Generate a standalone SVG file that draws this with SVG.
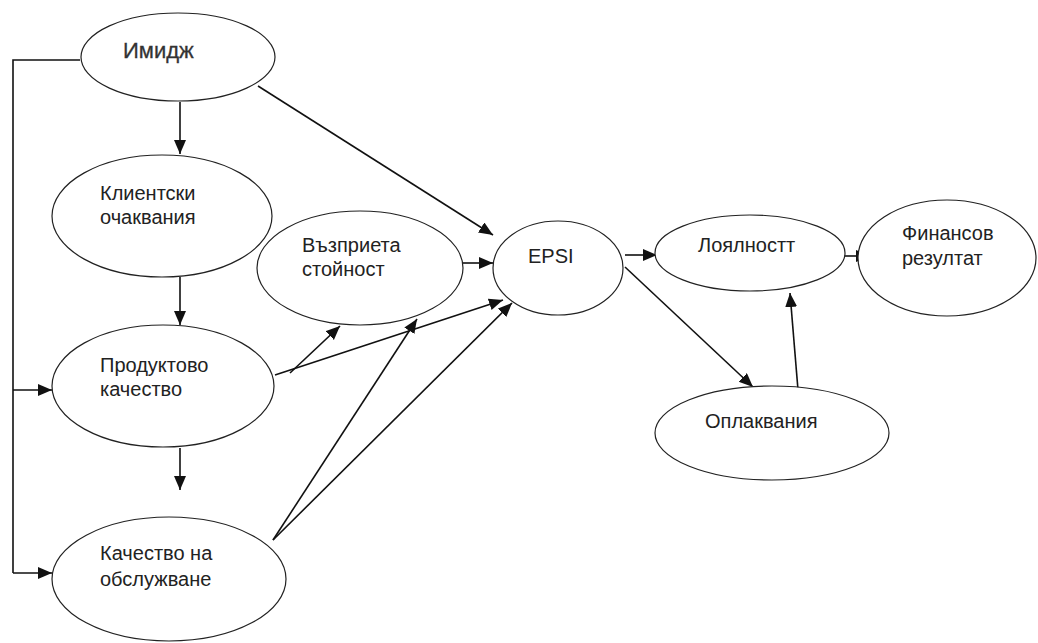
<svg xmlns="http://www.w3.org/2000/svg" width="1038" height="643" viewBox="0 0 1038 643">
<style>
.n{fill:#fff;stroke:#222;stroke-width:1.2}
.t{font-family:"Liberation Sans",Arial,sans-serif;font-size:20px;fill:#222}
.c{fill:none;stroke:#111;stroke-width:1.6}
</style>
<defs>
<marker id="a" markerUnits="userSpaceOnUse" markerWidth="16" markerHeight="14" refX="14" refY="6" orient="auto">
<path d="M0,0 L14,6 L0,12 Z" fill="#111"/>
</marker>
</defs>
<rect width="1038" height="643" fill="#fff"/>
<g id="connectors">
<polyline class="c" points="80,60 13,60 13,573"/>
<line class="c" x1="13" y1="390" x2="52" y2="390" marker-end="url(#a)"/>
<line class="c" x1="13" y1="573" x2="52" y2="573" marker-end="url(#a)"/>
<line class="c" x1="180" y1="102" x2="180" y2="154" marker-end="url(#a)"/>
<line class="c" x1="180" y1="277" x2="180" y2="325" marker-end="url(#a)"/>
<line class="c" x1="180" y1="448" x2="180" y2="490" marker-end="url(#a)"/>
<line class="c" x1="258" y1="86" x2="493" y2="235" marker-end="url(#a)"/>
<line class="c" x1="463" y1="263" x2="493" y2="263" marker-end="url(#a)"/>
<line class="c" x1="290" y1="373" x2="340" y2="326" marker-end="url(#a)"/>
<line class="c" x1="275" y1="375" x2="503" y2="300" marker-end="url(#a)"/>
<line class="c" x1="273" y1="540" x2="417" y2="319" marker-end="url(#a)"/>
<line class="c" x1="273" y1="540" x2="512" y2="303" marker-end="url(#a)"/>
<line class="c" x1="625" y1="255" x2="657" y2="255" marker-end="url(#a)"/>
<line class="c" x1="843" y1="256" x2="870" y2="256" marker-end="url(#a)"/>
<line class="c" x1="625" y1="267" x2="753" y2="387" marker-end="url(#a)"/>
<line class="c" x1="798" y1="390" x2="790" y2="293" marker-end="url(#a)"/>
</g>
<g id="imidzh">
<ellipse class="n" cx="178" cy="57" rx="97" ry="44"/>
<text class="t" x="123" y="58" style="font-size:22px;fill:#333;stroke:#333;stroke-width:0.3">Имидж</text>
</g>
<g id="klientski">
<ellipse class="n" cx="162" cy="216" rx="110" ry="61"/>
<text class="t" x="100" y="200">Клиентски</text>
<text class="t" x="100" y="224">очаквания</text>
</g>
<g id="produktovo">
<ellipse class="n" cx="163" cy="386" rx="111" ry="61"/>
<text class="t" x="100" y="372">Продуктово</text>
<text class="t" x="100" y="396">качество</text>
</g>
<g id="kachestvo">
<ellipse class="n" cx="169" cy="579" rx="117" ry="62"/>
<text class="t" x="100" y="560">Качество на</text>
<text class="t" x="100" y="586">обслужване</text>
</g>
<g id="vazprieta">
<ellipse class="n" cx="360" cy="268" rx="103" ry="57"/>
<text class="t" x="302" y="252">Възприета</text>
<text class="t" x="302" y="276">стойност</text>
</g>
<g id="epsi">
<ellipse class="n" cx="558" cy="268" rx="65" ry="47"/>
<text class="t" x="528" y="263">EPSI</text>
</g>
<g id="loyalnost">
<ellipse class="n" cx="750" cy="253" rx="95" ry="38"/>
<text class="t" x="698" y="252">Лоялностт</text>
</g>
<g id="finansov">
<ellipse class="n" cx="947" cy="258" rx="89" ry="58"/>
<text class="t" x="902" y="240">Финансов</text>
<text class="t" x="902" y="265">резултат</text>
</g>
<g id="oplakvaniya">
<ellipse class="n" cx="772" cy="433" rx="117" ry="47"/>
<text class="t" x="705" y="428">Оплаквания</text>
</g>
</svg>
